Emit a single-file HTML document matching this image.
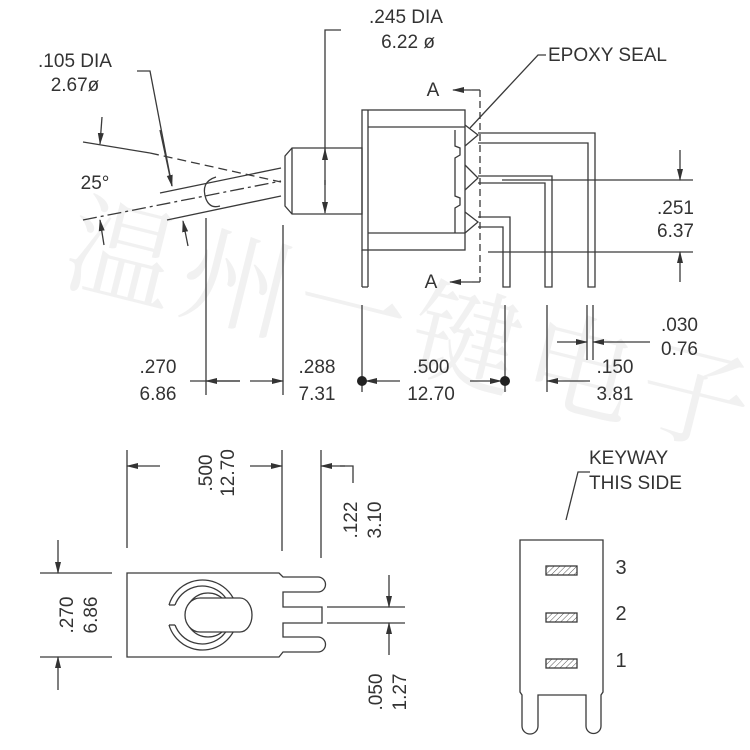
<!DOCTYPE html>
<html><head><meta charset="utf-8"><style>
html,body{margin:0;padding:0;background:#fff;}
svg{display:block;}
text{font-family:"Liberation Sans",sans-serif;fill:#333;font-size:19px;}
</style></head><body>
<svg width="750" height="750" viewBox="0 0 750 750" xmlns="http://www.w3.org/2000/svg">
<defs>
<marker id="ar" markerWidth="12" markerHeight="8" refX="11" refY="4" orient="auto" markerUnits="userSpaceOnUse">
<path d="M0,1 L12,4 L0,7 Z" fill="#333"/></marker>
<pattern id="h" width="4" height="4" patternUnits="userSpaceOnUse" patternTransform="rotate(45)">
<line x1="0" y1="0" x2="0" y2="4" stroke="#555" stroke-width="1"/></pattern>
</defs>
<!-- watermark -->
<text x="40" y="360" transform="rotate(14 380 400)" style="font-family:'Noto Serif CJK SC',serif;font-size:110px;fill:#f1f1f1;letter-spacing:8px">温州一键电子</text>

<g stroke="#3a3a3a" stroke-width="1.3" fill="none">
<polyline points="341,30 325,30 325,160"/>
<line x1="325" y1="185" x2="325" y2="149" marker-end="url(#ar)"/>
<line x1="325" y1="180" x2="325" y2="213" marker-end="url(#ar)"/>
<polygon points="292,148 362,148 362,214 292,214 285,206 285,156"/>
<line x1="292" y1="148" x2="292" y2="214"/>
<rect x="362" y="110" width="103" height="140"/>
<line x1="368" y1="110" x2="368" y2="287"/>
<line x1="362" y1="250" x2="362" y2="287"/>
<line x1="362" y1="287" x2="368" y2="287"/>
<line x1="368" y1="127" x2="465" y2="127"/>
<line x1="368" y1="233" x2="465" y2="233"/>
<polyline points="455,130 455,146 460,148 460,155 455,158 455,196 460,198 460,205 455,208 455,233"/>
<polyline points="465,125 478,135 465,146"/>
<polyline points="465,165 478,178 465,190"/>
<polyline points="465,212 478,222 465,233"/>
<polyline points="478,133 595,133 595,287 588,287 588,143 478,143"/>
<polyline points="478,176 552,176 552,287 545,287 545,183 478,183"/>
<polyline points="478,217 510,217 510,287 503,287 503,227 478,227"/>
<line x1="480" y1="90" x2="480" y2="282" stroke-dasharray="7,4"/>
<line x1="472" y1="90" x2="480" y2="90"/>
<line x1="472" y1="90" x2="453" y2="90" marker-end="url(#ar)"/>
<line x1="472" y1="282" x2="480" y2="282"/>
<line x1="472" y1="282" x2="450" y2="282" marker-end="url(#ar)"/>
<polyline points="546,55 538,55 470,128"/>
<line x1="502" y1="180" x2="693" y2="180"/>
<line x1="488" y1="252" x2="693" y2="252"/>
<line x1="680" y1="150" x2="680" y2="180" marker-end="url(#ar)"/>
<line x1="680" y1="282" x2="680" y2="252" marker-end="url(#ar)"/>
<line x1="281" y1="168" x2="160" y2="193"/>
<line x1="281" y1="196" x2="167" y2="220"/>
<path d="M216,177 Q200,182 206,199 Q210,209 220,206"/>
<line x1="83" y1="142" x2="150" y2="153"/>
<line x1="150" y1="153" x2="281" y2="182" stroke-dasharray="9,5"/>
<line x1="83" y1="220" x2="281" y2="181" stroke-dasharray="14,4,3,4"/>
<line x1="102" y1="117" x2="100" y2="144" marker-end="url(#ar)"/>
<line x1="104" y1="245" x2="100" y2="220" marker-end="url(#ar)"/>
<line x1="188" y1="246" x2="183" y2="221" marker-end="url(#ar)"/>
<polyline points="137,71 150,71 172,186"/>
<line x1="160" y1="130" x2="172" y2="186" marker-end="url(#ar)"/>
<line x1="206" y1="218" x2="206" y2="395"/>
<line x1="283" y1="225" x2="283" y2="395"/>
<line x1="240" y1="381" x2="206" y2="381" marker-end="url(#ar)"/>
<line x1="190" y1="381" x2="240" y2="381"/>
<line x1="250" y1="381" x2="283" y2="381" marker-end="url(#ar)"/>
<line x1="362" y1="305" x2="362" y2="392"/>
<line x1="505" y1="305" x2="505" y2="392"/>
<line x1="400" y1="381" x2="366" y2="381" marker-end="url(#ar)"/>
<line x1="470" y1="381" x2="501" y2="381" marker-end="url(#ar)"/>
<line x1="547" y1="305" x2="547" y2="392"/>
<line x1="587" y1="305" x2="587" y2="360"/>
<line x1="593" y1="305" x2="593" y2="360"/>
<line x1="590" y1="381" x2="547" y2="381" marker-end="url(#ar)"/>
<line x1="557" y1="342" x2="587" y2="342" marker-end="url(#ar)"/>
<line x1="650" y1="342" x2="593" y2="342" marker-end="url(#ar)"/>
</g>
<g stroke="#222" fill="#222"><circle cx="362" cy="381" r="4.5"/><circle cx="505" cy="381" r="4.5"/></g>

<g stroke="#3a3a3a" stroke-width="1.3" fill="none">
<line x1="127" y1="450" x2="127" y2="548"/>
<line x1="282" y1="450" x2="282" y2="551"/>
<line x1="321" y1="450" x2="321" y2="558"/>
<line x1="160" y1="466" x2="127" y2="466" marker-end="url(#ar)"/>
<line x1="250" y1="466" x2="282" y2="466" marker-end="url(#ar)"/>
<polyline points="353,483 353,466 340,466"/>
<line x1="345" y1="466" x2="321" y2="466" marker-end="url(#ar)"/>
<path d="M127,573 L279,573 L283,577 L318,577 A7.5,7.5 0 0 1 318,592 L283,592 L283,607 L322,607 L322,623 L283,623 L283,637 L318,637 A7.5,7.5 0 0 1 318,652 L283,652 L279,657 L127,657 Z"/>
<line x1="40" y1="573" x2="112" y2="573"/>
<line x1="40" y1="657" x2="112" y2="657"/>
<line x1="58" y1="540" x2="58" y2="573" marker-end="url(#ar)"/>
<line x1="58" y1="690" x2="58" y2="657" marker-end="url(#ar)"/>
<line x1="327" y1="607" x2="405" y2="607"/>
<line x1="327" y1="623" x2="405" y2="623"/>
<line x1="389" y1="575" x2="389" y2="607" marker-end="url(#ar)"/>
<line x1="389" y1="655" x2="389" y2="623" marker-end="url(#ar)"/>
<path d="M169,605 A35,35 0 1 1 169,625"/>
<path d="M175,605 A29,29 0 1 1 175,625"/>
<line x1="169" y1="605" x2="175" y2="605"/><line x1="169" y1="625" x2="175" y2="625"/>
<circle cx="208" cy="615" r="22"/>
<path d="M200,598 L240,598 A12,17 0 0 1 240,632 L200,632 A15,17 0 0 1 200,598 Z" fill="#fff"/>
</g>

<g stroke="#3a3a3a" stroke-width="1.3" fill="none">
<path d="M520,692 L520,540 L603,540 L603,692 L601,695 L601,726 A7.5,7.5 0 0 1 586,726 L586,695 L538,695 L538,726 A8,8 0 0 1 522,726 L522,695 Z"/>
<rect x="546" y="566" width="31" height="9" fill="url(#h)"/>
<rect x="546" y="613" width="31" height="9" fill="url(#h)"/>
<rect x="546" y="659" width="31" height="9" fill="url(#h)"/>
<polyline points="590,472 578,472 566,520"/>
</g>

<text x="406" y="23" text-anchor="middle">.245 DIA</text>
<text x="408" y="48" text-anchor="middle">6.22 ø</text>
<text x="548" y="61">EPOXY SEAL</text>
<text x="75" y="67" text-anchor="middle">.105 DIA</text>
<text x="75" y="91" text-anchor="middle">2.67ø</text>
<text x="95" y="189" text-anchor="middle">25°</text>
<text x="433" y="96" text-anchor="middle">A</text>
<text x="431" y="288" text-anchor="middle">A</text>
<text x="694" y="214" text-anchor="end">.251</text>
<text x="694" y="237" text-anchor="end">6.37</text>
<text x="158" y="373" text-anchor="middle">.270</text>
<text x="158" y="400" text-anchor="middle">6.86</text>
<text x="317" y="373" text-anchor="middle">.288</text>
<text x="317" y="400" text-anchor="middle">7.31</text>
<text x="431" y="373" text-anchor="middle">.500</text>
<text x="431" y="400" text-anchor="middle">12.70</text>
<text x="615" y="373" text-anchor="middle">.150</text>
<text x="615" y="400" text-anchor="middle">3.81</text>
<text x="698" y="331" text-anchor="end">.030</text>
<text x="698" y="355" text-anchor="end">0.76</text>
<text transform="translate(212,473) rotate(-90)" text-anchor="middle">.500</text>
<text transform="translate(234,473) rotate(-90)" text-anchor="middle">12.70</text>
<text transform="translate(357,520) rotate(-90)" text-anchor="middle">.122</text>
<text transform="translate(381,520) rotate(-90)" text-anchor="middle">3.10</text>
<text transform="translate(73,615) rotate(-90)" text-anchor="middle">.270</text>
<text transform="translate(97,615) rotate(-90)" text-anchor="middle">6.86</text>
<text transform="translate(382,692) rotate(-90)" text-anchor="middle">.050</text>
<text transform="translate(406,692) rotate(-90)" text-anchor="middle">1.27</text>
<text x="589" y="464">KEYWAY</text>
<text x="589" y="489">THIS SIDE</text>
<text x="621" y="574" text-anchor="middle" style="font-size:20px">3</text>
<text x="621" y="620" text-anchor="middle" style="font-size:20px">2</text>
<text x="621" y="667" text-anchor="middle" style="font-size:20px">1</text>
</svg>
</body></html>
